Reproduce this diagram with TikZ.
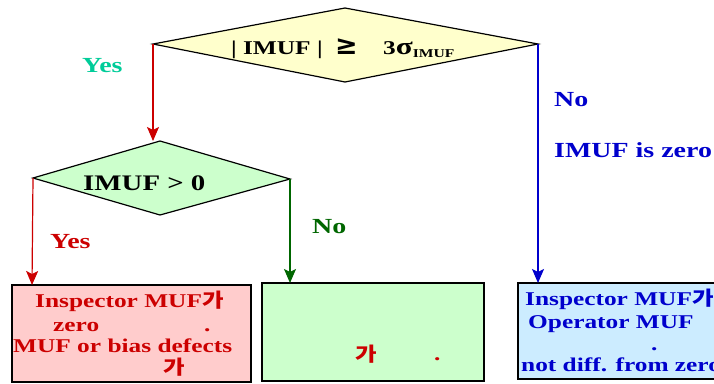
\documentclass[tikz,border=0pt]{standalone}
\usepackage{fontspec}
\setmainfont[FakeStretch=1.3]{Liberation Serif}
\newfontfamily\krfont[FakeStretch=1.2]{Noto Sans CJK KR}
\newfontfamily\symfont{DejaVu Sans}
\usetikzlibrary{shapes.geometric,arrows.meta}

\definecolor{yesteal}{RGB}{0,204,153}
\definecolor{darkred}{RGB}{204,0,0}
\definecolor{darkgreen}{RGB}{0,102,0}
\definecolor{darkblue}{RGB}{0,0,204}
\definecolor{paleyellow}{RGB}{255,255,204}
\definecolor{palegreen}{RGB}{204,255,204}
\definecolor{palered}{RGB}{255,204,204}
\definecolor{paleblue}{RGB}{204,236,255}

\newcommand{\ga}{{\krfont\bfseries 가}}

\tikzset{
  txt/.style={font=\fontsize{19.5}{22}\selectfont\bfseries, inner sep=0pt, anchor=base west},
  lbl/.style={txt, font=\fontsize{21.5}{24}\selectfont\bfseries},
  boxshape/.style={draw=black, line width=1.2pt},
  flow/.style={line width=1.2pt, -{Stealth[length=14pt,width=12pt,inset=3pt]}},
}

\begin{document}
\begin{tikzpicture}[x=1pt,y=-1pt]
\useasboundingbox (0,0) rectangle (714,383);

% decision diamonds
\filldraw[fill=paleyellow, draw=black, line width=1.2pt]
  (153,44) coordinate (d1w) -- (345,8) coordinate (d1n) -- (538,44) coordinate (d1e) -- (345,82) coordinate (d1s) -- cycle;
\filldraw[fill=palegreen, draw=black, line width=1.2pt]
  (33,178) coordinate (d2w) -- (160,141) coordinate (d2n) -- (290,179) coordinate (d2e) -- (160,215) coordinate (d2s) -- cycle;

\node[txt] (q1a) at (231,54) {| IMUF |};
\node[txt, font=\fontsize{27}{28}\selectfont\symfont\bfseries] (q1b) at (335,54) {≥};
\node[txt, font=\fontsize{19.5}{22}\selectfont\bfseries] (q1c) at (383,54) {3\fontsize{24}{24}\selectfont σ\raisebox{-3pt}{\fontsize{12}{12}\selectfont IMUF}};
\node[txt, font=\fontsize{22.2}{24}\selectfont\bfseries] (q2) at (83,190) {IMUF > 0};

% result boxes
\filldraw[boxshape, fill=palered] (12,285) rectangle (251,382);
\filldraw[boxshape, fill=palegreen] (262,283) rectangle (484,381);
\filldraw[boxshape, fill=paleblue] (518,283) rectangle (720,379);
\coordinate (b1n) at (32,285);
\coordinate (b2n) at (290,283);
\coordinate (b3n) at (538,283);

% connectors
\draw[flow, darkred] (d1w) -- (d1w |- d2n);
\draw[flow, darkred] (d2w) -- (b1n);
\draw[flow, darkgreen] (d2e) -- (b2n);
\draw[flow, darkblue] (d1e) -- (b3n);

% branch labels
\node[lbl, yesteal] (yes1) at (82,72) {Yes};
\node[lbl, darkred] (yes2) at (50,248) {Yes};
\node[lbl, darkgreen] (no2) at (312,233) {No};
\node[lbl, darkblue] (no1) at (554,106) {No};
\node[lbl, darkblue] (zero1) at (554,157) {IMUF is zero};

% red box text
\node[txt, darkred] (r1) at (35,307) {Inspector MUF\ga};
\node[txt, darkred] (r2) at (53,331) {zero};
\node[txt, darkred] (r3) at (204,331) {.};
\node[txt, darkred] (r4) at (13,352) {MUF or bias defects};
\node[txt, darkred] (r5) at (163,374) {\ga};

% green box text
\node[txt, darkred] (g1) at (355,361) {\ga};
\node[txt, darkred] (g2) at (434,360) {.};

% blue box text
\node[txt, darkblue] (u1) at (525,305) {Inspector MUF\ga};
\node[txt, darkblue] (u2) at (528,328) {Operator MUF};
\node[txt, darkblue] (u3) at (651,350) {.};
\node[txt, darkblue] (u4) at (521,371) {not diff. from zero};
\end{tikzpicture}
\end{document}
